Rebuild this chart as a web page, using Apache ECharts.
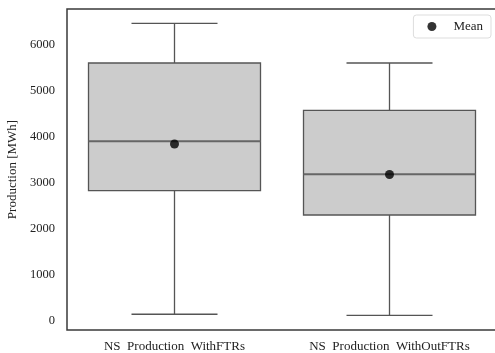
<!DOCTYPE html>
<html>
<head>
<meta charset="utf-8">
<script src="https://cdn.jsdelivr.net/npm/echarts@6/dist/echarts.min.js"></script>
<style>html,body{margin:0;padding:0;background:#fff}#c{width:495px;height:353px}</style>
</head>
<body>
<div id="c"></div>
<script>
var categories = ['NS  Production  WithFTRs', 'NS  Production  WithOutFTRs'];
var whiskerLow = [146, 124];
var q1 = [2833, 2304];
var median = [3906, 3189];
var q3 = [5609, 4580];
var whiskerHigh = [6472, 5609];
var means = [3848, 3185];
var yTicks = [0, 1000, 2000, 3000, 4000, 5000, 6000];

var boxData = categories.map(function (c, i) {
  return [i, whiskerLow[i], q1[i], median[i], q3[i], whiskerHigh[i]];
});
var meanData = categories.map(function (c, i) { return [i, means[i]]; });

var font = 'Liberation Serif, Times New Roman, serif';
var lineCol = '#555555';

function renderBox(params, api) {
  var idx = api.value(0);
  var band = api.size([1, 0])[0];
  var bw = band * 0.8;
  var capW = bw * 0.5;
  var pLow = api.coord([idx, api.value(1)]);
  var pQ1 = api.coord([idx, api.value(2)]);
  var pMed = api.coord([idx, api.value(3)]);
  var pQ3 = api.coord([idx, api.value(4)]);
  var pHigh = api.coord([idx, api.value(5)]);
  var cx = pQ1[0];
  var ls = { stroke: lineCol, lineWidth: 1.3 };
  return {
    type: 'group',
    children: [
      { type: 'line', shape: { x1: cx, y1: pHigh[1], x2: cx, y2: pQ3[1] }, style: ls },
      { type: 'line', shape: { x1: cx, y1: pQ1[1], x2: cx, y2: pLow[1] }, style: ls },
      { type: 'line', shape: { x1: cx - capW / 2, y1: pHigh[1], x2: cx + capW / 2, y2: pHigh[1] }, style: ls },
      { type: 'line', shape: { x1: cx - capW / 2, y1: pLow[1], x2: cx + capW / 2, y2: pLow[1] }, style: ls },
      { type: 'rect', shape: { x: cx - bw / 2, y: pQ3[1], width: bw, height: pQ1[1] - pQ3[1] },
        style: { fill: '#cccccc', stroke: lineCol, lineWidth: 1.3 } },
      { type: 'line', shape: { x1: cx - bw / 2, y1: pMed[1], x2: cx + bw / 2, y2: pMed[1] },
        style: { stroke: '#666666', lineWidth: 2 } }
    ]
  };
}

var chart = echarts.init(document.getElementById('c'), null, { renderer: 'canvas' });
chart.setOption({
  animation: false,
  backgroundColor: '#ffffff',
  textStyle: { fontFamily: font },
  grid: { left: 67, top: 9, right: -2, bottom: 23, outerBoundsMode: 'none', containLabel: false,
    show: true, borderColor: '#3a3a3a', borderWidth: 1.5, backgroundColor: 'transparent' },
  legend: {
    data: ['Mean'],
    right: 4, top: 15,
    orient: 'vertical',
    backgroundColor: '#fff',
    borderColor: '#dddddd', borderWidth: 1, borderRadius: 3,
    padding: [5, 8, 5, 14],
    itemWidth: 9, itemHeight: 9,
    textStyle: { fontFamily: font, fontSize: 13, color: '#222', padding: [0, 0, 0, 12] }
  },
  xAxis: {
    type: 'category',
    data: categories,
    boundaryGap: true,
    axisLine: { show: false },
    axisTick: { show: false },
    splitLine: { show: false },
    axisLabel: { fontFamily: font, fontSize: 13, color: '#222', margin: 10, interval: 0 }
  },
  yAxis: {
    type: 'value',
    min: -196, max: 6783,
    name: 'Production [MWh]',
    nameLocation: 'middle',
    nameGap: 37,
    nameTextStyle: { fontFamily: font, fontSize: 13, color: '#222' },
    axisLine: { show: false },
    axisTick: { show: false },
    splitLine: { show: false },
    axisLabel: { fontFamily: font, fontSize: 12.5, color: '#222', margin: 12, customValues: yTicks,
      formatter: function (v) { return String(v); } }
  },
  series: [
    {
      name: 'box',
      type: 'custom',
      renderItem: renderBox,
      encode: { x: 0, y: [1, 2, 3, 4, 5] },
      data: boxData,
      z: 2
    },
    {
      name: 'Mean',
      type: 'scatter',
      symbol: 'circle',
      symbolSize: 9,
      itemStyle: { color: '#000000' },
      data: meanData,
      z: 5
    }
  ]
});
</script>
</body>
</html>
